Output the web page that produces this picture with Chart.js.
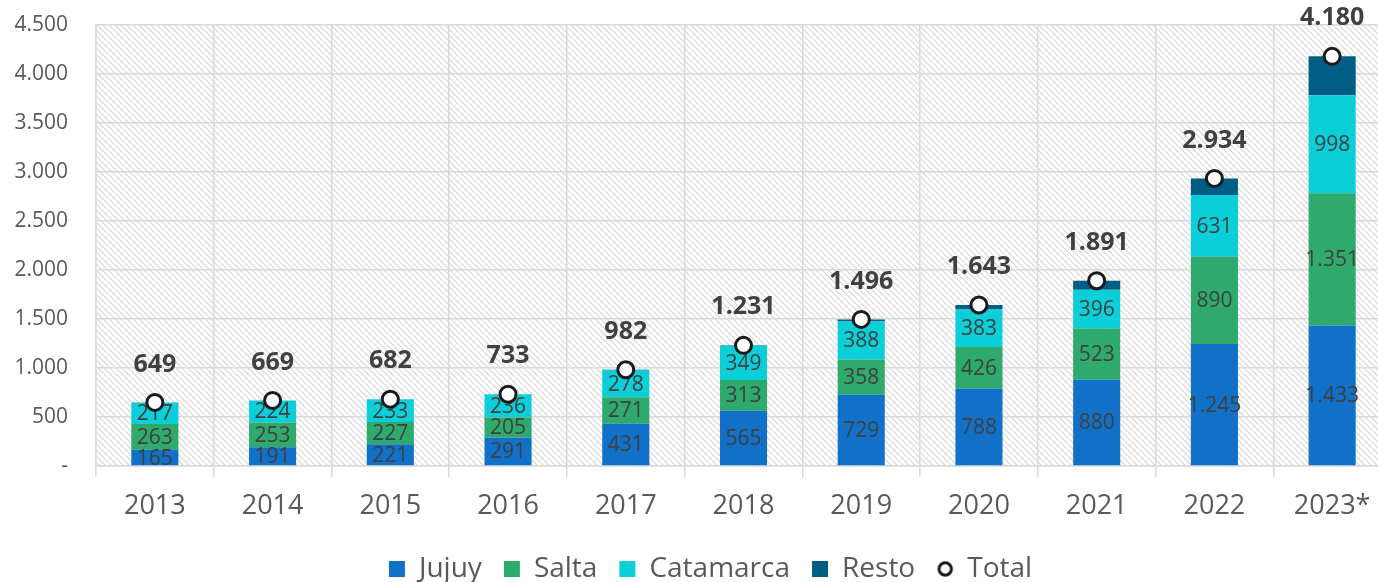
<!DOCTYPE html>
<html>
<head>
<meta charset="utf-8">
<script src="https://cdn.jsdelivr.net/npm/chart.js@4.4.1/dist/chart.umd.min.js"></script>
<style>
  html, body { margin: 0; padding: 0; background: #fff; overflow: hidden; }
</style>
</head>
<body>
<canvas id="chart" width="1416" height="582"></canvas>
<script>
const years = ["2013", "2014", "2015", "2016", "2017", "2018", "2019", "2020", "2021", "2022", "2023*"];
const jujuy = [165, 191, 221, 291, 431, 565, 729, 788, 880, 1245, 1433];
const salta = [263, 253, 227, 205, 271, 313, 358, 426, 523, 890, 1351];
const catamarca = [217, 224, 233, 236, 278, 349, 388, 383, 396, 631, 998];
const resto = [4, 1, 1, 1, 2, 4, 21, 46, 92, 168, 398];
const total = [649, 669, 682, 733, 982, 1231, 1496, 1643, 1891, 2934, 4180];

const FONT = '"Open Sans", sans-serif';
const TEXT = "#595959";
const GRID = "#d9d9d9";

const fmt = (n) => String(n).replace(/\B(?=(\d{3})+(?!\d))/g, ".");

// diagonal hatch behind the plot
function makeHatch(ctx) {
  const s = 6;
  const c = document.createElement("canvas");
  c.width = s; c.height = s;
  const g = c.getContext("2d");
  g.fillStyle = "#ffffff";
  g.fillRect(0, 0, s, s);
  g.strokeStyle = "#d6d6d6";
  g.lineWidth = 1.2;
  g.beginPath();
  g.moveTo(-1, -1); g.lineTo(s + 1, s + 1);
  g.moveTo(-1, s - 1); g.lineTo(1, s + 1);
  g.moveTo(s - 1, -1); g.lineTo(s + 1, 1);
  g.stroke();
  return ctx.createPattern(c, "repeat");
}

// small ring used as the legend marker for the total
function makeRing() {
  const c = document.createElement("canvas");
  c.width = 18; c.height = 18;
  const g = c.getContext("2d");
  g.fillStyle = "#fff";
  g.strokeStyle = "#1a1a1a";
  g.lineWidth = 3;
  g.beginPath();
  g.arc(9, 9, 6.2, 0, Math.PI * 2);
  g.fill();
  g.stroke();
  return c;
}
const ring = makeRing();

const plotBackground = {
  id: "plotBackground",
  beforeDraw(chart) {
    const { ctx, chartArea: a } = chart;
    ctx.save();
    ctx.fillStyle = makeHatch(ctx);
    ctx.fillRect(a.left, a.top, a.right - a.left, a.bottom - a.top);
    ctx.restore();
  }
};

// nudge the legend so it sits centred under the visible part of the page
const legendShift = {
  id: "legendShift",
  afterLayout(chart) {
    const lg = chart.legend;
    lg.left += 15; lg.right += 15;
    lg.top += 11; lg.bottom += 11;
  }
};

const valueLabels = {
  id: "valueLabels",
  afterDatasetDraw(chart, args) {
    // Jujuy is the last bar series painted; label all segments then
    if (args.index !== 0) return;
    const ctx = chart.ctx;
    ctx.save();
    ctx.font = "21px " + FONT;
    ctx.fillStyle = "#404040";
    ctx.textAlign = "center";
    ctx.textBaseline = "middle";
    [0, 1, 2].forEach((i) => {
      const values = chart.data.datasets[i].data;
      chart.getDatasetMeta(i).data.forEach((bar, j) => {
        ctx.fillText(fmt(values[j]), bar.x, (bar.y + bar.base) / 2 + 1);
      });
    });
    ctx.restore();
  },
  afterDatasetsDraw(chart) {
    const ctx = chart.ctx;
    ctx.save();
    ctx.font = "bold 25px " + FONT;
    ctx.fillStyle = "#404040";
    ctx.textAlign = "center";
    ctx.textBaseline = "middle";
    chart.getDatasetMeta(4).data.forEach((pt, j) => {
      ctx.fillText(fmt(total[j]), pt.x, pt.y - 38);
    });
    ctx.restore();
  }
};

const barStyle = { stack: "s", order: 1, borderWidth: 0, pointStyle: "rect", barPercentage: 0.4, categoryPercentage: 1 };

new Chart(document.getElementById("chart"), {
  type: "bar",
  data: {
    labels: years,
    datasets: [
      { label: "Jujuy", data: jujuy, backgroundColor: "#1170c8", ...barStyle },
      { label: "Salta", data: salta, backgroundColor: "#2eaa6c", ...barStyle },
      { label: "Catamarca", data: catamarca, backgroundColor: "#0bcfd8", ...barStyle },
      { label: "Resto", data: resto, backgroundColor: "#005e85", ...barStyle },
      {
        type: "line",
        label: "Total",
        data: total,
        stack: "t",
        order: 0,
        showLine: false,
        pointStyle: "circle",
        pointRadius: 8,
        pointBorderWidth: 3,
        pointBackgroundColor: "#ffffff",
        pointBorderColor: "#1a1a1a",
        borderColor: "#1a1a1a",
        backgroundColor: "#ffffff"
      }
    ]
  },
  options: {
    responsive: false,
    animation: false,
    layout: { padding: { top: 25, left: 0, right: 25, bottom: 0 } },
    plugins: {
      tooltip: { enabled: false },
      legend: {
        position: "bottom",
        labels: {
          usePointStyle: true,
          boxWidth: 16,
          boxHeight: 16,
          padding: 22,
          color: TEXT,
          font: { family: FONT, size: 28 },
          sort: (a, b) => a.datasetIndex - b.datasetIndex,
          generateLabels(chart) {
            const items = Chart.defaults.plugins.legend.labels.generateLabels(chart);
            items.forEach((it) => { if (it.datasetIndex === 4) it.pointStyle = ring; });
            return items;
          }
        }
      }
    },
    scales: {
      x: {
        stacked: true,
        afterFit: (s) => { s.height = 56; },
        grid: { color: GRID, lineWidth: 1.5, tickLength: 11, tickColor: GRID, offset: true },
        border: { color: GRID, width: 1.5 },
        ticks: { color: TEXT, font: { family: FONT, size: 27 }, padding: 13 }
      },
      y: {
        stacked: true,
        min: 0,
        max: 4500,
        afterFit: (s) => { s.width = 96; s.paddingTop = 0; s.paddingBottom = 0; },
        grid: { color: GRID, lineWidth: 1.5, drawTicks: false },
        border: { color: GRID, width: 1.5 },
        ticks: {
          stepSize: 500,
          padding: 28,
          color: TEXT,
          font: { family: FONT, size: 21 },
          callback: (v) => (v === 0 ? "-" : fmt(v))
        }
      }
    }
  },
  plugins: [plotBackground, legendShift, valueLabels]
});
</script>
</body>
</html>
